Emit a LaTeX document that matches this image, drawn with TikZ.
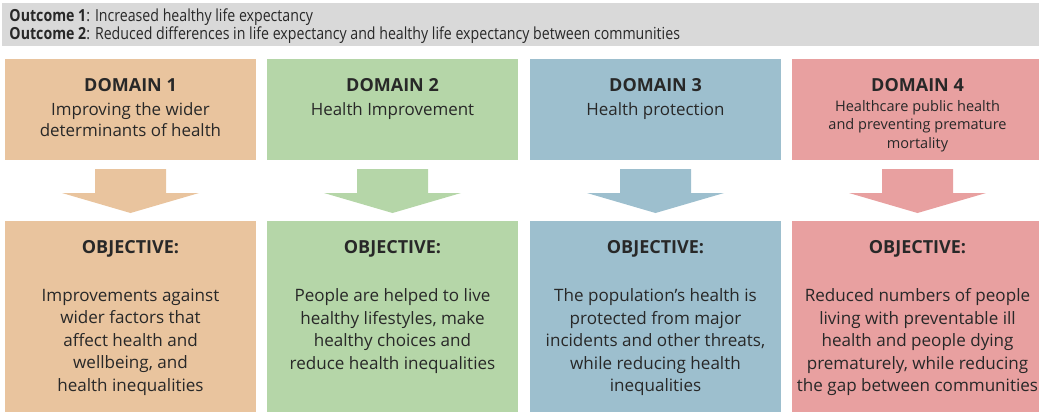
\documentclass[tikz,border=0pt]{standalone}
\usepackage{fontspec}
\setmainfont{Open Sans}
\newfontfamily\narrowfont[FakeStretch=0.85]{Open Sans}

\definecolor{outgray}{RGB}{217,217,217}
\definecolor{domOne}{RGB}{233,196,158}
\definecolor{domTwo}{RGB}{181,214,168}
\definecolor{domThree}{RGB}{157,191,206}
\definecolor{domFour}{RGB}{232,160,160}
\definecolor{txtgray}{RGB}{40,40,40}

\tikzset{every picture/.style={line width=0.75pt}}
\tikzset{
  dombox/.style={minimum width=188.25pt,minimum height=75.75pt,inner sep=0pt,outer sep=0pt},
  objbox/.style={minimum width=188.25pt,minimum height=143.25pt,inner sep=0pt,outer sep=0pt},
  headtxt/.style={inner sep=0.75pt,text=txtgray,font=\fontsize{13.5}{16}\selectfont\bfseries},
  domtxt/.style={inner sep=0.75pt,text=txtgray,align=center,anchor=north,font=\fontsize{12.7}{15.75}\selectfont},
  smalltxt/.style={inner sep=0.75pt,text=txtgray,align=center,anchor=north,font=\fontsize{10.9}{13.9}\selectfont},
  objtxt/.style={inner sep=0.75pt,text=txtgray,align=center,anchor=north,font=\fontsize{12.8}{16.9}\selectfont},
  outtxt/.style={anchor=west,inner sep=0.75pt,text=txtgray,font=\narrowfont\fontsize{12.5}{14}\selectfont}
}

\begin{document}
\begin{tikzpicture}[x=0.75pt,y=0.75pt,yscale=-1,xscale=1]
\useasboundingbox (0,0) rectangle (1039,412);

%Outcome bar
\fill [outgray] (2,3) rectangle (1045,46);
\node [outtxt] (outa) at (8,17) {\textbf{Outcome 1}: Increased healthy life expectancy};
\node [outtxt] (outb) at (8,35) {\textbf{Outcome 2}: Reduced differences in life expectancy and healthy life expectancy between communities};

%Domain boxes, arrows and objective boxes
\foreach \cx/\col/\i in {130.5/domOne/1,392.5/domTwo/2,655.5/domThree/3,917.5/domFour/4}{
  \node [dombox,fill=\col] (dom\i) at (\cx,109.5) {};
  \node [objbox,fill=\col] (obj\i) at (\cx,316.5) {};
  %Block arrow
  \fill [\col] (\cx-35.5,169) -- (\cx+35.5,169) -- (\cx+35.5,193) -- (\cx+68.5,193) -- (\cx,213) -- (\cx-68.5,193) -- (\cx-35.5,193) -- cycle ;
  \node [headtxt] (domh\i) at (\cx,85) {DOMAIN \i};
  \node [headtxt] (objh\i) at (\cx,249) {OBJECTIVE:};
}

% Text Node
\node [domtxt] (domt1) at (130.5,101.5) {Improving the wider\\determinants of health};
% Text Node
\node [domtxt] (domt2) at (392.5,101.5) {Health Improvement};
% Text Node
\node [domtxt] (domt3) at (655.5,101.5) {Health protection};
% Text Node
\node [smalltxt] (domt4) at (917.5,98.5) {Healthcare public health\\and preventing premature\\mortality};

% Text Node
\node [objtxt] (objt1) at (130.5,287) {Improvements against\\wider factors that\\affect health and\\wellbeing, and\\health inequalities};
% Text Node
\node [objtxt] (objt2) at (392.5,287) {People are helped to live\\healthy lifestyles, make\\healthy choices and\\reduce health inequalities};
% Text Node
\node [objtxt] (objt3) at (655.5,287) {The population’s health is\\protected from major\\incidents and other threats,\\while reducing health\\inequalities};
% Text Node
\node [objtxt] (objt4) at (917.5,287) {Reduced numbers of people\\living with preventable ill\\health and people dying\\prematurely, while reducing\\the gap between communities};

\end{tikzpicture}
\end{document}
